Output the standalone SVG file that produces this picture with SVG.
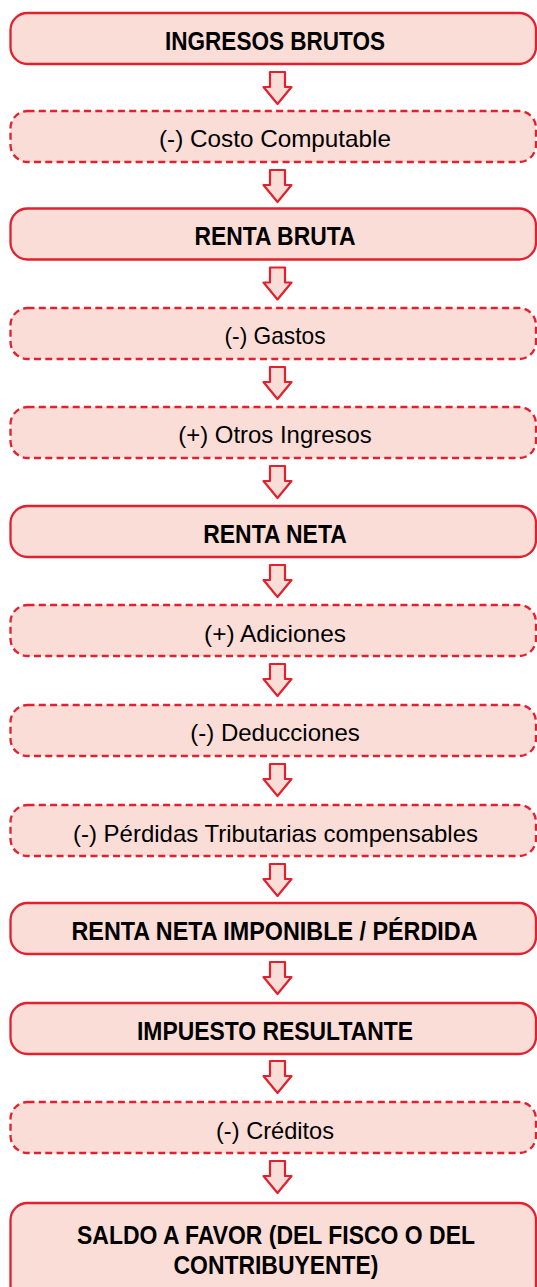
<svg xmlns="http://www.w3.org/2000/svg" xmlns:xlink="http://www.w3.org/1999/xlink" width="537" height="1287" viewBox="0 0 537 1287">
<style>
.box{fill:#FBDDD7;stroke:#E2202E;stroke-width:2.3}
.dash{stroke-dasharray:7 4.3}
.t{font-family:"Liberation Sans",Arial,sans-serif;fill:#000;text-anchor:middle}
.b{font-weight:bold;font-size:25px}
.r{font-size:24px}
.arrow{fill:#FBDDD7;stroke:#E2202E;stroke-width:2.2;stroke-linejoin:round}
</style>
<defs>
<path id="arr" class="arrow" d="M-7.5,0 L7.5,0 L7.5,15 L14,15 L0,32 L-14,15 L-7.5,15 Z"/>
</defs>
<rect width="537" height="1287" fill="#fff"/>
<g id="connectors">
<use xlink:href="#arr" transform="translate(277.5,72)"/>
<use xlink:href="#arr" transform="translate(277.5,170)"/>
<use xlink:href="#arr" transform="translate(277.5,267.5)"/>
<use xlink:href="#arr" transform="translate(277.5,367)"/>
<use xlink:href="#arr" transform="translate(277.5,466)"/>
<use xlink:href="#arr" transform="translate(277.5,565)"/>
<use xlink:href="#arr" transform="translate(277.5,664)"/>
<use xlink:href="#arr" transform="translate(277.5,764)"/>
<use xlink:href="#arr" transform="translate(277.5,864)"/>
<use xlink:href="#arr" transform="translate(277.5,962)"/>
<use xlink:href="#arr" transform="translate(277.5,1061)"/>
<use xlink:href="#arr" transform="translate(277.5,1161)"/>
</g>
<g id="n1"><rect class="box" x="10.5" y="13" width="525.5" height="51" rx="17"/><text class="t b" x="275" y="49.5" textLength="220" lengthAdjust="spacingAndGlyphs">INGRESOS BRUTOS</text></g>
<g id="n2"><rect class="box dash" x="10.5" y="111" width="525.5" height="51" rx="17"/><text class="t r" x="275" y="147" textLength="232" lengthAdjust="spacingAndGlyphs">(-) Costo Computable</text></g>
<g id="n3"><rect class="box" x="10.5" y="208.5" width="525.5" height="51" rx="17"/><text class="t b" x="275" y="245" textLength="161" lengthAdjust="spacingAndGlyphs">RENTA BRUTA</text></g>
<g id="n4"><rect class="box dash" x="10.5" y="308" width="525.5" height="51" rx="17"/><text class="t r" x="275" y="344" textLength="101" lengthAdjust="spacingAndGlyphs">(-) Gastos</text></g>
<g id="n5"><rect class="box dash" x="10.5" y="407" width="525.5" height="51" rx="17"/><text class="t r" x="275" y="443" textLength="193.5" lengthAdjust="spacingAndGlyphs">(+) Otros Ingresos</text></g>
<g id="n6"><rect class="box" x="10.5" y="506" width="525.5" height="51" rx="17"/><text class="t b" x="275" y="542.5" textLength="143.5" lengthAdjust="spacingAndGlyphs">RENTA NETA</text></g>
<g id="n7"><rect class="box dash" x="10.5" y="605" width="525.5" height="51" rx="17"/><text class="t r" x="275" y="641.5" textLength="142" lengthAdjust="spacingAndGlyphs">(+) Adiciones</text></g>
<g id="n8"><rect class="box dash" x="10.5" y="705" width="525.5" height="51" rx="17"/><text class="t r" x="275" y="741" textLength="169.5" lengthAdjust="spacingAndGlyphs">(-) Deducciones</text></g>
<g id="n9"><rect class="box dash" x="10.5" y="805" width="525.5" height="51" rx="17"/><text class="t r" x="275.5" y="841.5" textLength="405" lengthAdjust="spacingAndGlyphs">(-) Pérdidas Tributarias compensables</text></g>
<g id="n10"><rect class="box" x="10.5" y="903" width="525.5" height="51" rx="17"/><text class="t b" x="274.5" y="940" textLength="406" lengthAdjust="spacingAndGlyphs">RENTA NETA IMPONIBLE / PÉRDIDA</text></g>
<g id="n11"><rect class="box" x="10.5" y="1003" width="525.5" height="51" rx="17"/><text class="t b" x="275" y="1040" textLength="276" lengthAdjust="spacingAndGlyphs">IMPUESTO RESULTANTE</text></g>
<g id="n12"><rect class="box dash" x="10.5" y="1102" width="525.5" height="51" rx="17"/><text class="t r" x="275" y="1139" textLength="118" lengthAdjust="spacingAndGlyphs">(-) Créditos</text></g>
<g id="n13"><rect class="box" x="10.5" y="1203" width="525.5" height="100" rx="17"/><text class="t b" x="276" y="1244" textLength="398" lengthAdjust="spacingAndGlyphs">SALDO A FAVOR (DEL FISCO O DEL</text><text class="t b" x="276" y="1274" textLength="205" lengthAdjust="spacingAndGlyphs">CONTRIBUYENTE)</text></g>
</svg>
